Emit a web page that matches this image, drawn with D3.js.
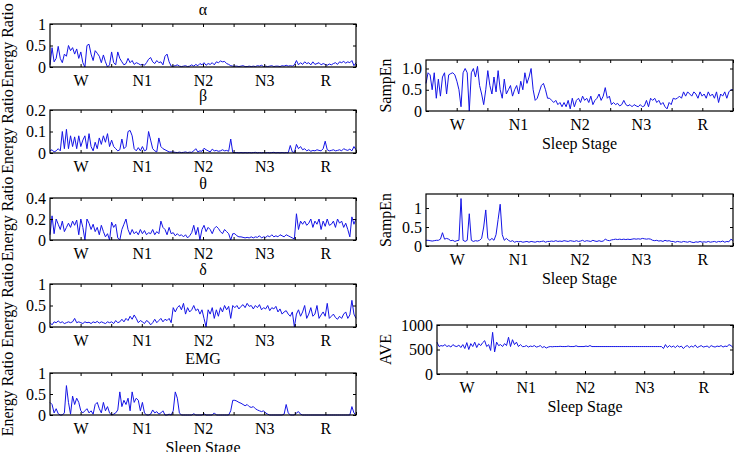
<!DOCTYPE html>
<html>
<head>
<meta charset="utf-8">
<script src="https://cdn.jsdelivr.net/npm/d3@7"></script>
<style>
  body { margin: 0; background: #fff; }
  svg { display: block; font-family: "Times New Roman", "Liberation Serif", serif; }
</style>
</head>
<body>
<div id="chart"></div>
<script>
// sleep stages shown under every panel (30 epochs per stage)
const stages = ["W", "N1", "N2", "N3", "R"];

const alphaRatio = [
  0.05,0.45,0.12,0.2,0.48,0.2,0.1,0.3,0.25,0.5,0.38,0.45,0.3,0.42,0.2,0.35,0.1,0.0,0.5,0.53,0.3,0.15,0.38,0.32,0.25,0.1,0.28,0.12,0.0,0.05,
  0.35,0.1,0.05,0.35,0.2,0.12,0.05,0.08,0.2,0.1,0.15,0.06,0.1,0.08,0.05,0.06,0.04,0.1,0.18,0.22,0.12,0.08,0.15,0.1,0.12,0.05,0.25,0.3,0.12,0.02,
  0.02,0.03,0.05,0.02,0.01,0.02,0.03,0.01,0.02,0.05,0.02,0.06,0.03,0.08,0.05,0.1,0.04,0.08,0.06,0.1,0.05,0.12,0.1,0.14,0.12,0.13,0.08,0.06,0.03,0.02,
  0.02,0.02,0.01,0.02,0.03,0.01,0.01,0.02,0.01,0.02,0.01,0.03,0.02,0.04,0.01,0.02,0.01,0.02,0.03,0.01,0.02,0.02,0.01,0.03,0.02,0.04,0.02,0.03,0.02,0.05,
  0.15,0.05,0.1,0.06,0.12,0.08,0.1,0.05,0.12,0.06,0.08,0.1,0.05,0.08,0.06,0.04,0.07,0.05,0.08,0.1,0.06,0.12,0.1,0.13,0.09,0.12,0.1,0.15,0.03,0.1
];

const betaRatio = [
  0.01,0.015,0.005,0.01,0.02,0.01,0.1,0.02,0.11,0.02,0.08,0.03,0.075,0.02,0.08,0.03,0.06,0.08,0.02,0.09,0.03,0.01,0.05,0.02,0.07,0.04,0.08,0.05,0.09,0.03,
  0.06,0.03,0.02,0.01,0.015,0.065,0.02,0.03,0.1,0.105,0.08,0.02,0.01,0.025,0.01,0.03,0.01,0.015,0.1,0.06,0.02,0.01,0.005,0.07,0.03,0.02,0.015,0.01,0.005,0.005,
  0.005,0.003,0.002,0.004,0.002,0.003,0.005,0.002,0.004,0.003,0.01,0.02,0.005,0.01,0.008,0.022,0.015,0.01,0.005,0.018,0.01,0.012,0.008,0.01,0.015,0.01,0.012,0.008,0.065,0.002,
  0.002,0.002,0.001,0.002,0.001,0.002,0.001,0.002,0.001,0.002,0.003,0.001,0.002,0.001,0.002,0.001,0.002,0.001,0.002,0.003,0.001,0.002,0.001,0.002,0.001,0.002,0.001,0.035,0.005,0.002,
  0.04,0.02,0.03,0.015,0.02,0.01,0.015,0.008,0.012,0.01,0.015,0.012,0.01,0.02,0.055,0.015,0.01,0.012,0.015,0.01,0.012,0.015,0.01,0.02,0.015,0.012,0.018,0.01,0.03,0.015
];

const thetaRatio = [
  0.05,0.23,0.06,0.2,0.15,0.1,0.18,0.08,0.12,0.16,0.12,0.18,0.14,0.19,0.05,0.2,0.12,0.0,0.2,0.16,0.1,0.15,0.08,0.12,0.05,0.14,0.08,0.03,0.06,0.0,
  0.17,0.12,0.15,0.02,0.0,0.1,0.15,0.2,0.1,0.05,0.1,0.06,0.08,0.05,0.1,0.06,0.09,0.05,0.07,0.06,0.1,0.05,0.08,0.06,0.18,0.12,0.1,0.05,0.12,0.06,
  0.07,0.04,0.06,0.04,0.05,0.03,0.05,0.02,0.04,0.07,0.14,0.05,0.12,0.0,0.1,0.14,0.08,0.12,0.1,0.06,0.11,0.13,0.11,0.08,0.06,0.1,0.08,0.06,0.0,0.06,
  0.06,0.04,0.03,0.03,0.025,0.02,0.025,0.02,0.03,0.02,0.03,0.025,0.04,0.02,0.03,0.025,0.04,0.03,0.05,0.03,0.04,0.03,0.05,0.04,0.03,0.05,0.04,0.03,0.02,0.01,
  0.25,0.1,0.18,0.15,0.18,0.14,0.16,0.2,0.12,0.18,0.15,0.2,0.1,0.18,0.13,0.2,0.14,0.15,0.18,0.12,0.2,0.16,0.18,0.12,0.16,0.1,0.03,0.22,0.15,0.2
];

const deltaRatio = [
  0.1,0.05,0.12,0.1,0.14,0.1,0.12,0.08,0.1,0.12,0.1,0.12,0.2,0.1,0.12,0.1,0.08,0.12,0.1,0.11,0.08,0.12,0.1,0.13,0.09,0.12,0.1,0.08,0.12,0.1,
  0.12,0.08,0.15,0.1,0.12,0.18,0.12,0.2,0.15,0.25,0.18,0.28,0.2,0.1,0.15,0.12,0.08,0.15,0.12,0.05,0.1,0.18,0.1,0.15,0.2,0.12,0.18,0.15,0.2,0.1,
  0.45,0.35,0.45,0.5,0.4,0.55,0.3,0.45,0.35,0.4,0.5,0.38,0.42,0.3,0.4,0.2,0.0,0.4,0.3,0.45,0.2,0.4,0.25,0.45,0.35,0.5,0.4,0.48,0.2,0.5,
  0.45,0.5,0.42,0.48,0.52,0.45,0.55,0.48,0.5,0.42,0.5,0.45,0.52,0.4,0.45,0.42,0.5,0.38,0.45,0.42,0.48,0.35,0.42,0.3,0.35,0.38,0.3,0.25,0.35,0.0,
  0.3,0.4,0.25,0.35,0.5,0.2,0.3,0.45,0.25,0.3,0.5,0.2,0.28,0.35,0.25,0.55,0.2,0.25,0.3,0.22,0.18,0.25,0.2,0.3,0.35,0.2,0.28,0.62,0.3,0.2
];

const emgRatio = [
  0.3,0.25,0.05,0.15,0.03,0.0,0.0,0.05,0.7,0.3,0.02,0.45,0.25,0.4,0.3,0.1,0.05,0.1,0.15,0.05,0.1,0.02,0.25,0.3,0.15,0.05,0.3,0.1,0.2,0.05,
  0.0,0.02,0.05,0.12,0.55,0.2,0.35,0.25,0.4,0.1,0.55,0.3,0.4,0.35,0.1,0.3,0.05,0.0,0.0,0.02,0.12,0.05,0.08,0.02,0.05,0.1,0.0,0.0,0.02,0.0,
  0.1,0.55,0.4,0.05,0.0,0.0,0.0,0.0,0.0,0.0,0.03,0.0,0.0,0.0,0.0,0.03,0.0,0.0,0.0,0.0,0.05,0.0,0.0,0.0,0.0,0.0,0.0,0.0,0.1,0.35,
  0.35,0.33,0.3,0.28,0.25,0.22,0.25,0.2,0.18,0.2,0.15,0.12,0.1,0.08,0.1,0.05,0.02,0.0,0.0,0.0,0.0,0.0,0.0,0.0,0.02,0.25,0.05,0.0,0.0,0.0,
  0.05,0.08,0.02,0.0,0.0,0.0,0.0,0.0,0.0,0.0,0.0,0.0,0.0,0.0,0.0,0.0,0.0,0.0,0.0,0.0,0.0,0.0,0.0,0.0,0.0,0.0,0.0,0.2,0.05,0.0
];

const sampEnA = [
  0.65,0.9,0.85,0.5,0.9,0.3,0.75,0.35,0.8,0.9,0.4,0.85,0.88,0.9,0.85,0.7,0.5,0.1,0.9,1.0,0.9,0.0,0.9,1.0,0.8,1.05,0.6,0.4,0.15,0.5,
  0.95,0.6,0.4,0.8,0.45,0.95,0.5,0.3,0.75,0.4,0.5,0.6,0.35,0.5,0.6,0.4,0.7,0.5,0.9,0.65,0.8,1.0,0.5,0.25,0.3,0.45,0.6,0.65,0.5,0.3,
  0.3,0.25,0.2,0.25,0.15,0.2,0.1,0.2,0.1,0.25,0.05,0.3,0.1,0.25,0.3,0.2,0.35,0.25,0.3,0.2,0.35,0.15,0.25,0.3,0.4,0.25,0.35,0.55,0.3,0.35,
  0.15,0.2,0.15,0.18,0.12,0.15,0.25,0.15,0.12,0.15,0.1,0.15,0.12,0.1,0.15,0.1,0.12,0.25,0.1,0.3,0.25,0.3,0.2,0.25,0.15,0.2,0.1,0.05,0.2,0.15,
  0.3,0.28,0.3,0.35,0.3,0.45,0.35,0.45,0.4,0.35,0.45,0.4,0.3,0.45,0.35,0.4,0.3,0.45,0.35,0.4,0.3,0.45,0.2,0.4,0.35,0.45,0.3,0.45,0.5,0.5
];

const sampEnB = [
  0.15,0.15,0.14,0.13,0.14,0.15,0.15,0.18,0.35,0.18,0.2,0.18,0.14,0.15,0.12,0.14,0.15,1.25,0.15,0.12,0.15,0.85,0.15,0.12,0.14,0.13,0.15,0.2,0.5,0.95,
  0.2,0.15,0.2,0.15,0.3,0.7,1.1,0.3,0.15,0.2,0.15,0.12,0.14,0.1,0.12,0.11,0.12,0.1,0.11,0.12,0.1,0.12,0.11,0.1,0.12,0.11,0.12,0.13,0.1,0.12,
  0.12,0.13,0.12,0.14,0.12,0.13,0.12,0.14,0.13,0.12,0.14,0.13,0.12,0.14,0.12,0.13,0.15,0.12,0.14,0.13,0.12,0.15,0.13,0.12,0.14,0.12,0.13,0.18,0.15,0.14,
  0.16,0.17,0.18,0.17,0.18,0.17,0.18,0.17,0.18,0.17,0.18,0.19,0.18,0.19,0.18,0.2,0.19,0.18,0.19,0.18,0.15,0.14,0.15,0.13,0.14,0.12,0.15,0.13,0.14,0.12,
  0.12,0.1,0.12,0.11,0.1,0.12,0.11,0.1,0.12,0.1,0.09,0.11,0.1,0.12,0.1,0.11,0.1,0.12,0.1,0.11,0.12,0.1,0.12,0.11,0.13,0.1,0.12,0.11,0.18,0.14
];

const aveValues = [
  650,560,580,570,600,560,580,550,600,570,560,590,540,600,520,640,500,620,560,650,540,620,580,640,680,560,600,480,850,450,
  650,580,600,560,620,580,750,560,700,600,650,560,600,560,560,580,550,570,560,580,550,560,580,540,560,530,550,560,555,560,
  560,560,565,560,560,560,570,560,560,560,575,560,560,560,560,570,560,580,560,560,560,560,560,560,560,560,560,560,560,560,
  560,560,560,560,560,560,560,560,560,560,560,560,560,560,560,560,560,560,560,560,560,560,560,560,520,600,540,580,550,570,
  540,580,550,570,520,560,580,540,570,550,590,540,560,580,550,560,570,540,580,560,550,570,560,580,550,570,560,600,580,540
];

// y tick values and their printed labels
const ticksOne = [0, 0.5, 1];
const labelsOne = ["0", "0.5", "1"];
const ticksBeta = [0, 0.1, 0.2];
const labelsBeta = ["0", "0.1", "0.2"];
const ticksTheta = [0, 0.2, 0.4];
const labelsTheta = ["0", "0.2", "0.4"];
const labelsSampEn = ["0", "0.5", "1.0"];
const ticksAve = [0, 500, 1000];
const labelsAve = ["0", "500", "1000"];

const width = 741;
const height = 452;
const fontSize = 16;

const panels = [
  { values: alphaRatio, left: 50, right: 356, top: 24, bottom: 67, ymax: 1, ticks: ticksOne, labels: labelsOne, title: "α", ylab: "Energy Ratio", ylabX: 13 },
  { values: betaRatio, left: 50, right: 356, top: 110, bottom: 153, ymax: 0.2, ticks: ticksBeta, labels: labelsBeta, title: "β", ylab: "Energy Ratio", ylabX: 13 },
  { values: thetaRatio, left: 50, right: 356, top: 198, bottom: 240, ymax: 0.4, ticks: ticksTheta, labels: labelsTheta, title: "θ", ylab: "Energy Ratio", ylabX: 13 },
  { values: deltaRatio, left: 50, right: 356, top: 284, bottom: 327, ymax: 1, ticks: ticksOne, labels: labelsOne, title: "δ", ylab: "Energy Ratio", ylabX: 13 },
  { values: emgRatio, left: 50, right: 356, top: 373, bottom: 415, ymax: 1, ticks: ticksOne, labels: labelsOne, title: "EMG", ylab: "Energy Ratio", ylabX: 13, xlab: "Sleep Stage" },
  { values: sampEnA, left: 426, right: 733, top: 60, bottom: 111, ymax: 1.2, ticks: ticksOne, labels: labelsSampEn, ylab: "SampEn", ylabX: 391, xlab: "Sleep Stage" },
  { values: sampEnB, left: 426, right: 733, top: 194, bottom: 246, ymax: 1.37, ticks: ticksOne, labels: labelsOne, ylab: "SampEn", ylabX: 391, xlab: "Sleep Stage" },
  { values: aveValues, left: 437, right: 733, top: 325, bottom: 374, ymax: 1000, ticks: ticksAve, labels: labelsAve, ylab: "AVE", ylabX: 391, xlab: "Sleep Stage" }
];

const svg = d3.select("#chart").append("svg")
  .attr("width", width)
  .attr("height", height);

svg.append("rect")
  .attr("width", width)
  .attr("height", height)
  .attr("fill", "#fff");

function styleAxis(sel) {
  sel.attr("font-size", fontSize).attr("font-family", null);
  sel.select(".domain").remove();
  sel.selectAll(".tick line").attr("stroke", "#000");
  sel.selectAll(".tick text").attr("fill", "#000");
}

function drawPanel(p) {
  const w = p.right - p.left;
  const h = p.bottom - p.top;
  const n = p.values.length - 1;

  const x = d3.scaleLinear().domain([0, n]).range([0, w]);
  const y = d3.scaleLinear().domain([0, p.ymax]).range([h, 0]);

  const xTicks = d3.range(1, 11).map(k => k * n / 10);
  const xLabel = (d, i) => i % 2 === 0 ? stages[i / 2] : "";

  const g = svg.append("g")
    .attr("transform", "translate(" + p.left + "," + p.top + ")");

  g.append("path")
    .datum(p.values)
    .attr("fill", "none")
    .attr("stroke", "#1414e6")
    .attr("stroke-width", 1)
    .attr("stroke-linejoin", "round")
    .attr("d", d3.line().x((d, i) => x(i)).y(d => y(d)));

  g.append("g")
    .attr("transform", "translate(0," + h + ")")
    .call(d3.axisBottom(x).tickValues(xTicks).tickFormat(xLabel)
      .tickSizeInner(-3).tickSizeOuter(0).tickPadding(8))
    .call(styleAxis);

  g.append("g")
    .call(d3.axisTop(x).tickValues(xTicks).tickFormat("")
      .tickSizeInner(-3).tickSizeOuter(0))
    .call(styleAxis);

  g.append("g")
    .call(d3.axisLeft(y).tickValues(p.ticks).tickFormat((d, i) => p.labels[i])
      .tickSizeInner(-3).tickSizeOuter(0).tickPadding(4))
    .call(styleAxis);

  g.append("g")
    .attr("transform", "translate(" + w + ",0)")
    .call(d3.axisRight(y).tickValues(p.ticks).tickFormat("")
      .tickSizeInner(-3).tickSizeOuter(0))
    .call(styleAxis);

  g.append("rect")
    .attr("width", w)
    .attr("height", h)
    .attr("fill", "none")
    .attr("stroke", "#000")
    .attr("stroke-width", 1.2);

  if (p.title) {
    g.append("text")
      .attr("x", w / 2)
      .attr("y", -9)
      .attr("text-anchor", "middle")
      .attr("font-size", fontSize)
      .text(p.title);
  }

  if (p.xlab) {
    g.append("text")
      .attr("x", w / 2)
      .attr("y", h + 38)
      .attr("text-anchor", "middle")
      .attr("font-size", fontSize)
      .text(p.xlab);
  }

  svg.append("text")
    .attr("transform", "translate(" + p.ylabX + "," + (p.top + h / 2) + ") rotate(-90)")
    .attr("text-anchor", "middle")
    .attr("font-size", fontSize)
    .text(p.ylab);
}

panels.forEach(drawPanel);
</script>
</body>
</html>
